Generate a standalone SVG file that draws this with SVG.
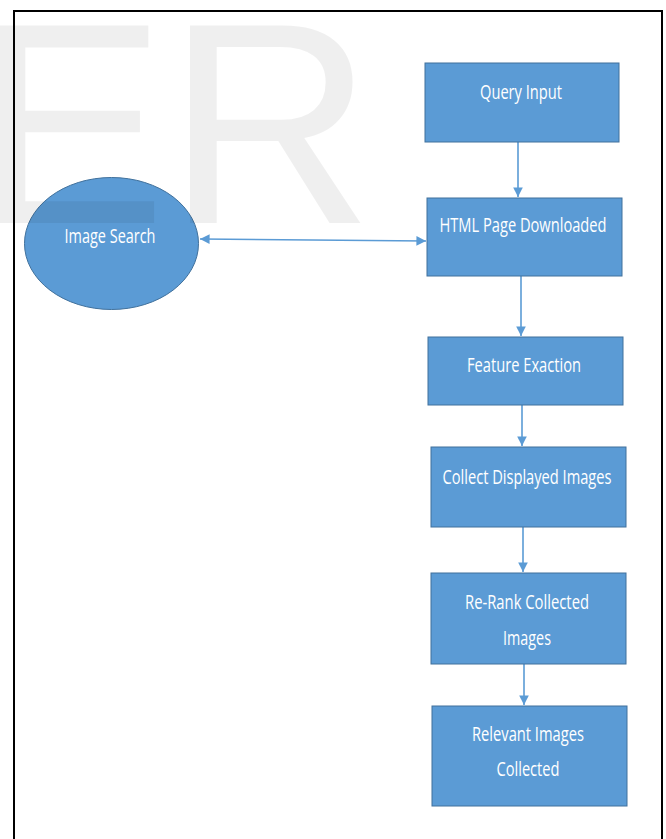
<svg xmlns="http://www.w3.org/2000/svg" width="666" height="839" viewBox="0 0 666 839">
<defs>
<style>
.box{fill:#5b9bd5;stroke:#41719c;stroke-width:1}
.lbl{font-family:"Open Sans",sans-serif;font-size:20px;fill:#fff;text-anchor:middle}
.con{stroke:#5b9bd5;stroke-width:1.6;fill:none}
</style>
<marker id="ah" viewBox="0 0 10 10" refX="10" refY="5" markerWidth="6" markerHeight="6" orient="auto-start-reverse" markerUnits="strokeWidth">
<path d="M0,0 L10,5 L0,10 z" fill="#5b9bd5"/>
</marker>
</defs>
<rect x="0" y="0" width="666" height="839" fill="#fff"/>
<rect x="14" y="11" width="648" height="840" fill="none" stroke="#000" stroke-width="2"/>
<g id="connectors">
<line class="con" x1="518" y1="142" x2="518" y2="197" marker-end="url(#ah)"/>
<line class="con" x1="521" y1="276" x2="521" y2="336" marker-end="url(#ah)"/>
<line class="con" x1="522" y1="405" x2="522" y2="446" marker-end="url(#ah)"/>
<line class="con" x1="523" y1="527" x2="523" y2="572" marker-end="url(#ah)"/>
<line class="con" x1="524" y1="664" x2="524" y2="705" marker-end="url(#ah)"/>
<line class="con" x1="200" y1="239" x2="426" y2="241" marker-start="url(#ah)" marker-end="url(#ah)"/>
</g>
<g id="image-search">
<ellipse class="box" cx="111.5" cy="243.5" rx="87" ry="66"/>
<text class="lbl" x="110" y="243" textLength="91" lengthAdjust="spacingAndGlyphs">Image Search</text>
</g>
<g id="query-input">
<rect class="box" x="425" y="63" width="194" height="79"/>
<text class="lbl" x="521" y="99" textLength="82" lengthAdjust="spacingAndGlyphs">Query Input</text>
</g>
<g id="html-page">
<rect class="box" x="427" y="198" width="195" height="78"/>
<text class="lbl" x="523" y="232" textLength="167" lengthAdjust="spacingAndGlyphs">HTML Page Downloaded</text>
</g>
<g id="feature-exaction">
<rect class="box" x="428" y="337" width="195" height="68"/>
<text class="lbl" x="524" y="372" textLength="114" lengthAdjust="spacingAndGlyphs">Feature Exaction</text>
</g>
<g id="collect-displayed">
<rect class="box" x="431" y="447" width="195" height="80"/>
<text class="lbl" x="527" y="484" textLength="169" lengthAdjust="spacingAndGlyphs">Collect Displayed Images</text>
</g>
<g id="re-rank">
<rect class="box" x="431" y="573" width="195" height="91"/>
<text class="lbl" x="527" y="609" textLength="124" lengthAdjust="spacingAndGlyphs">Re-Rank Collected</text>
<text class="lbl" x="527" y="645" textLength="48" lengthAdjust="spacingAndGlyphs">Images</text>
</g>
<g id="relevant">
<rect class="box" x="432" y="706" width="195" height="100"/>
<text class="lbl" x="528" y="741" textLength="112" lengthAdjust="spacingAndGlyphs">Relevant Images</text>
<text class="lbl" x="528" y="776" textLength="63" lengthAdjust="spacingAndGlyphs">Collected</text>
</g>
<text x="-25" y="223" font-family="Liberation Sans, Arial, sans-serif" font-size="287" fill="#000" fill-opacity="0.063">ER</text>
</svg>
